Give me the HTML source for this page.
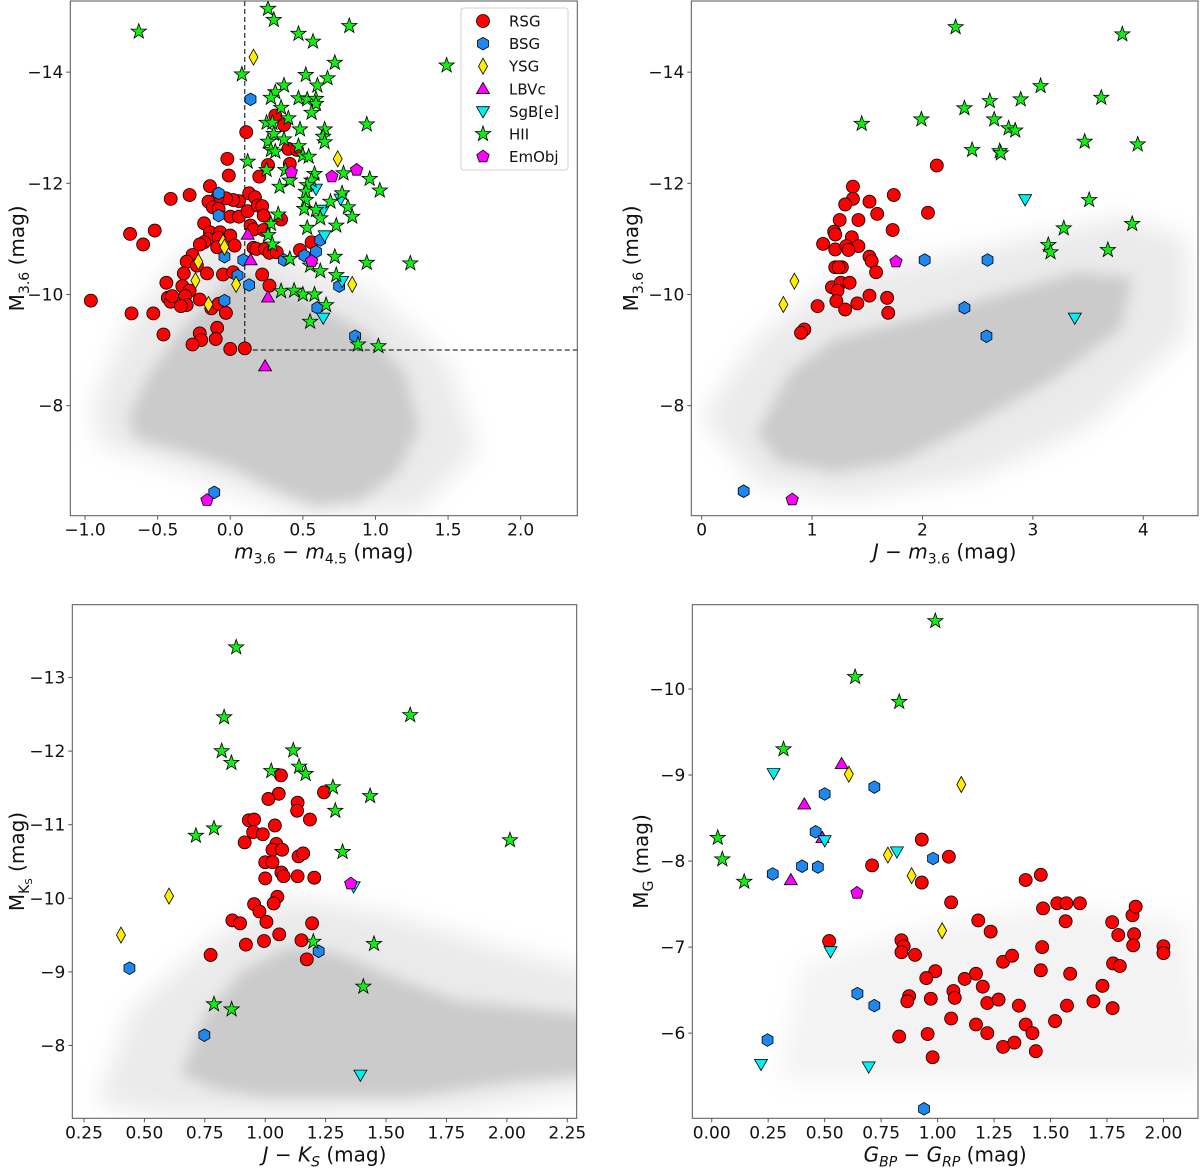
<!DOCTYPE html>
<html><head><meta charset="utf-8"><style>
html,body{margin:0;padding:0;background:#fff}
svg{display:block;font-family:"DejaVu Sans","Liberation Sans",sans-serif}
</style></head><body>
<svg id="fig" width="1200" height="1168" viewBox="0 0 1200 1168" xmlns="http://www.w3.org/2000/svg">
<defs>
<filter id="blur1" x="-20%" y="-20%" width="140%" height="140%"><feGaussianBlur stdDeviation="7"/></filter>
<filter id="blur2" x="-20%" y="-20%" width="140%" height="140%"><feGaussianBlur stdDeviation="12"/></filter>
</defs>
</svg>
<script>
// ---------- data (panel 1: m3.6-m4.5 vs M3.6) ----------
const p1_rsg=[[-0.96,-9.89],[-0.69,-11.09],[-0.60,-10.90],[-0.52,-11.15],[-0.68,-9.66],[-0.53,-9.66],[-0.46,-9.28],[-0.44,-10.21],[-0.41,-11.72],[-0.28,-11.79],[-0.14,-11.95],[-0.02,-12.44],[-0.01,-12.14],[0.11,-12.92],[0.31,-13.22],[0.37,-13.05],[0.40,-12.62],[0.46,-12.60],[0.41,-12.35],[0.26,-12.33],[0.20,-12.12],[0.35,-11.35],[0.13,-11.82],[0.17,-11.75],[0.06,-11.68],[0.02,-11.70],[-0.03,-11.73],[-0.09,-11.74],[-0.15,-11.67],[-0.12,-11.57],[-0.08,-11.54],[0.00,-11.40],[0.06,-11.40],[0.12,-11.50],[0.19,-11.60],[0.22,-11.59],[0.23,-11.42],[-0.18,-11.28],[0.14,-11.24],[0.16,-11.17],[0.23,-11.16],[-0.14,-11.12],[-0.07,-11.12],[0.00,-11.06],[-0.15,-11.00],[-0.08,-11.02],[-0.18,-10.94],[-0.21,-10.90],[-0.09,-10.85],[0.03,-10.88],[0.16,-10.84],[0.18,-10.82],[0.24,-10.82],[0.27,-10.75],[0.32,-10.76],[0.48,-10.80],[0.56,-10.94],[-0.26,-10.71],[-0.30,-10.59],[-0.23,-10.52],[-0.32,-10.38],[-0.16,-10.38],[-0.05,-10.36],[0.02,-10.40],[0.22,-10.36],[0.27,-10.16],[-0.33,-10.15],[-0.28,-10.07],[-0.31,-9.97],[-0.43,-9.94],[-0.41,-9.87],[-0.40,-9.97],[-0.30,-9.81],[-0.34,-9.79],[-0.21,-9.91],[-0.13,-9.75],[-0.08,-9.83],[-0.03,-9.67],[-0.09,-9.40],[-0.10,-9.20],[-0.21,-9.30],[-0.20,-9.18],[-0.26,-9.10],[0.00,-9.02],[0.10,-9.03]];
const p1_bsg=[[0.14,-13.51],[-0.08,-11.82],[-0.08,-11.42],[-0.04,-10.68],[0.09,-10.62],[0.37,-10.62],[0.05,-10.34],[0.13,-10.17],[-0.04,-9.89],[0.51,-10.70],[0.59,-10.77],[0.62,-10.98],[0.75,-10.15],[0.60,-9.76],[0.86,-9.25],[-0.11,-6.44]];
const p1_ysg=[[0.16,-14.27],[0.74,-12.44],[-0.05,-10.94],[-0.04,-10.85],[-0.22,-10.59],[-0.24,-10.25],[0.04,-10.18],[-0.15,-9.82],[0.84,-10.18]];
const p1_lbv=[[0.12,-11.08],[0.14,-10.62],[0.26,-9.95],[0.24,-8.71]];
const p1_sgb=[[0.59,-11.90],[0.76,-11.72],[0.64,-11.52],[0.65,-11.06],[0.77,-10.24],[0.64,-9.58]];
const p1_hii=[[-0.63,-14.73],[0.26,-15.14],[0.30,-14.94],[0.47,-14.69],[0.57,-14.55],[0.82,-14.83],[1.49,-14.12],[0.08,-13.96],[0.52,-13.95],[0.37,-13.76],[0.72,-14.17],[0.60,-13.76],[0.67,-13.89],[0.31,-13.64],[0.28,-13.54],[0.47,-13.53],[0.53,-13.51],[0.59,-13.52],[0.59,-13.43],[0.56,-13.27],[0.35,-13.36],[0.40,-13.17],[0.25,-13.09],[0.29,-13.09],[0.94,-13.06],[0.48,-12.97],[0.30,-12.89],[0.65,-12.97],[0.64,-12.84],[0.37,-12.79],[0.26,-12.75],[0.65,-12.74],[0.28,-12.60],[0.31,-12.57],[0.47,-12.67],[0.50,-12.50],[0.54,-12.48],[0.12,-12.39],[0.25,-12.24],[0.38,-12.24],[0.41,-12.05],[0.34,-11.94],[0.58,-12.17],[0.56,-12.05],[0.78,-12.18],[0.96,-12.08],[1.03,-11.87],[0.53,-11.97],[0.52,-11.85],[0.52,-11.70],[0.51,-11.54],[0.59,-11.52],[0.62,-11.37],[0.69,-11.67],[0.77,-11.82],[0.81,-11.57],[0.84,-11.40],[0.73,-11.24],[0.53,-11.20],[0.33,-11.44],[0.28,-11.27],[0.26,-11.07],[0.29,-10.90],[0.72,-10.68],[0.94,-10.57],[1.24,-10.56],[0.55,-10.52],[0.62,-10.42],[0.73,-10.35],[0.35,-10.06],[0.44,-10.07],[0.50,-10.00],[0.58,-10.00],[0.66,-9.81],[0.55,-9.51],[0.88,-9.10],[1.02,-9.07],[0.41,-10.64]];
const p1_emo=[[0.42,-12.20],[0.70,-12.12],[0.87,-12.24],[0.56,-10.60],[-0.16,-6.30]];
const p1_cut=[0.1,-9.0];
const p1_fieldCore=[[-0.7,-7.8],[-0.55,-8.6],[-0.35,-9.3],[-0.15,-9.9],[0.05,-10.4],[0.3,-10.2],[0.6,-9.8],[0.95,-9.3],[1.2,-8.6],[1.3,-7.6],[1.15,-6.8],[0.9,-6.3],[0.6,-6.2],[0.3,-6.5],[0.0,-6.9],[-0.35,-7.2],[-0.65,-7.4]];
const p1_fieldHalo=[[-0.95,-8],[-0.7,-9.5],[-0.3,-10.8],[0.1,-11.2],[0.5,-10.6],[1.0,-10.0],[1.5,-8.8],[1.7,-7.2],[1.3,-6.1],[0.5,-6.0],[-0.3,-6.8],[-0.9,-7.3]];
const p1_xticks=[-1.0,-0.5,0.0,0.5,1.0,1.5,2.0];
const p1_yticks=[-14,-12,-10,-8];

// ---------- panel 2: J-m3.6 vs M3.6 ----------
const p2_rsg=[[2.13,-12.32],[1.37,-11.94],[1.37,-11.72],[1.30,-11.62],[1.52,-11.67],[1.74,-11.79],[1.59,-11.45],[2.05,-11.47],[1.25,-11.34],[1.42,-11.34],[1.73,-11.16],[1.20,-11.13],[1.21,-11.08],[1.10,-10.91],[1.36,-11.03],[1.42,-10.87],[1.21,-10.81],[1.31,-10.87],[1.33,-10.80],[1.52,-10.68],[1.54,-10.60],[1.58,-10.40],[1.21,-10.49],[1.27,-10.49],[1.24,-10.49],[1.18,-10.13],[1.26,-10.21],[1.34,-10.21],[1.23,-10.07],[1.22,-9.88],[1.30,-9.73],[1.41,-9.84],[1.52,-9.98],[1.68,-9.94],[1.69,-9.67],[1.05,-9.79],[0.93,-9.37],[0.90,-9.31]];
const p2_bsg=[[2.02,-10.62],[2.59,-10.62],[2.38,-9.76],[2.58,-9.25],[0.38,-6.46]];
const p2_ysg=[[0.84,-10.24],[0.74,-9.82]];
const p2_lbv=[];
const p2_sgb=[[2.93,-11.71],[3.38,-9.58]];
const p2_hii=[[2.30,-14.81],[3.81,-14.68],[3.07,-13.75],[3.62,-13.54],[2.89,-13.51],[2.61,-13.48],[2.38,-13.35],[2.65,-13.15],[1.99,-13.15],[1.45,-13.07],[2.78,-12.99],[2.84,-12.95],[3.47,-12.75],[3.95,-12.70],[2.45,-12.60],[2.70,-12.58],[2.71,-12.54],[3.51,-11.70],[3.90,-11.27],[3.28,-11.19],[3.14,-10.89],[3.16,-10.76],[3.68,-10.80]];
const p2_emo=[[1.76,-10.59],[0.82,-6.31]];
const p2_fieldCore=[[0.5,-7.5],[0.8,-8.6],[1.2,-9.2],[2.0,-9.6],[2.7,-10.0],[3.4,-10.4],[3.9,-10.3],[3.8,-9.4],[3.2,-8.5],[2.4,-7.6],[1.8,-7.0],[1.2,-6.8],[0.7,-7.0]];
const p2_fieldHalo=[[0.0,-7.8],[0.5,-9.2],[1.2,-10.3],[2.5,-10.8],[3.8,-11.4],[4.4,-11],[4.4,-9.3],[3.5,-7.6],[2.5,-6.7],[1.3,-6.3],[0.5,-6.6]];
const p2_xticks=[0,1,2,3,4];
const p2_yticks=[-14,-12,-10,-8];

// ---------- panel 3: J-Ks vs MKs ----------
const p3_rsg=[[1.065,-11.67],[1.056,-11.42],[1.013,-11.35],[1.134,-11.30],[1.132,-11.19],[1.243,-11.44],[1.185,-11.07],[0.932,-11.06],[0.954,-11.07],[1.04,-10.99],[0.95,-10.90],[0.99,-10.87],[0.915,-10.76],[1.046,-10.74],[1.03,-10.66],[1.07,-10.66],[1.138,-10.57],[1.157,-10.61],[1.00,-10.49],[1.03,-10.49],[1.067,-10.35],[1.076,-10.30],[1.134,-10.30],[1.203,-10.28],[1.0,-10.27],[1.05,-10.02],[1.035,-9.93],[0.954,-9.92],[0.976,-9.82],[0.864,-9.70],[0.896,-9.66],[1.005,-9.68],[1.194,-9.66],[1.058,-9.51],[0.92,-9.37],[0.995,-9.42],[1.15,-9.43],[1.172,-9.17],[0.774,-9.23]];
const p3_bsg=[[0.438,-9.05],[0.748,-8.14],[1.221,-9.28]];
const p3_ysg=[[0.602,-10.03],[0.403,-9.50]];
const p3_lbv=[];
const p3_sgb=[[1.366,-10.16],[1.394,-7.60]];
const p3_hii=[[0.88,-13.41],[0.83,-12.46],[1.60,-12.49],[0.82,-12.00],[1.116,-12.01],[0.86,-11.84],[1.025,-11.73],[1.14,-11.79],[1.167,-11.69],[1.28,-11.51],[1.434,-11.39],[1.29,-11.19],[0.788,-10.95],[0.713,-10.85],[1.32,-10.63],[2.013,-10.79],[1.199,-9.41],[1.45,-9.38],[1.406,-8.80],[0.788,-8.56],[0.861,-8.49]];
const p3_emo=[[1.354,-10.20]];
const p3_fieldCore=[[0.65,-7.6],[0.75,-8.4],[0.9,-9.0],[1.1,-9.35],[1.3,-9.25],[1.55,-8.9],[1.8,-8.6],[2.1,-8.5],[2.35,-8.4],[2.35,-7.6],[2.0,-7.5],[1.6,-7.3],[1.3,-7.3],[1.0,-7.3],[0.8,-7.4]];
const p3_fieldHalo=[[0.3,-7.2],[0.45,-8.5],[0.8,-9.5],[1.1,-10],[1.5,-9.8],[2.0,-9.3],[2.35,-9],[2.35,-7.4],[1.8,-7.1],[1.2,-7.05],[0.6,-7.05]];
const p3_xticks=[0.25,0.50,0.75,1.00,1.25,1.50,1.75,2.00,2.25];
const p3_yticks=[-13,-12,-11,-10,-9,-8];

// ---------- panel 4: GBP-GRP vs MG ----------
const p4_rsg=[[0.93,-8.25],[0.71,-7.95],[0.93,-7.75],[1.05,-8.05],[1.06,-7.52],[0.52,-7.07],[0.84,-7.08],[0.85,-7.01],[0.84,-6.94],[0.90,-6.91],[0.99,-6.72],[0.95,-6.64],[0.874,-6.43],[0.866,-6.37],[0.97,-6.40],[1.07,-6.49],[1.076,-6.41],[1.18,-7.31],[1.235,-7.18],[1.17,-6.69],[1.12,-6.63],[1.20,-6.54],[1.22,-6.35],[1.27,-6.39],[1.29,-6.83],[1.33,-6.90],[1.36,-6.32],[1.06,-6.17],[1.17,-6.10],[1.22,-6.00],[0.83,-5.96],[0.956,-5.99],[0.978,-5.72],[1.29,-5.84],[1.34,-5.89],[1.39,-6.10],[1.42,-6.00],[1.435,-5.79],[1.39,-7.78],[1.457,-7.84],[1.467,-7.45],[1.463,-7.00],[1.457,-6.73],[1.53,-7.51],[1.57,-7.51],[1.63,-7.51],[1.567,-7.30],[1.587,-6.69],[1.573,-6.32],[1.52,-6.14],[1.73,-6.55],[1.69,-6.37],[1.773,-7.29],[1.80,-7.14],[1.777,-6.81],[1.807,-6.78],[1.775,-6.29],[1.863,-7.37],[1.877,-7.47],[1.87,-7.15],[1.866,-7.02],[2.0,-7.01],[2.0,-6.93]];
const p4_bsg=[[0.50,-8.78],[0.72,-8.86],[0.46,-8.34],[0.40,-7.94],[0.47,-7.93],[0.27,-7.85],[0.98,-8.03],[0.645,-6.46],[0.72,-6.32],[0.247,-5.92],[0.94,-5.12]];
const p4_ysg=[[0.607,-9.01],[1.105,-8.89],[0.78,-8.07],[0.885,-7.83],[1.02,-7.19]];
const p4_lbv=[[0.575,-9.13],[0.41,-8.66],[0.35,-7.78],[0.49,-8.27]];
const p4_sgb=[[0.274,-9.02],[0.50,-8.24],[0.82,-8.11],[0.526,-6.95],[0.218,-5.64],[0.695,-5.61]];
const p4_hii=[[0.99,-10.79],[0.635,-10.14],[0.83,-9.85],[0.318,-9.30],[0.027,-8.27],[0.047,-8.02],[0.144,-7.76]];
const p4_emo=[[0.643,-7.63]];
const p4_fieldCore=[];
const p4_fieldHalo=[[0.3,-5.45],[0.4,-6.8],[0.9,-7.2],[1.5,-7.5],[2.1,-7.3],[2.2,-5.45]];
const p4_xticks=[0.00,0.25,0.50,0.75,1.00,1.25,1.50,1.75,2.00];
const p4_yticks=[-10,-9,-8,-7,-6];

// ---------- rendering ----------
const NS="http://www.w3.org/2000/svg";
const svg=document.getElementById('fig');
function el(tag,attrs,parent){const e=document.createElementNS(NS,tag);for(const k in attrs)e.setAttribute(k,attrs[k]);(parent||svg).appendChild(e);return e;}
function mk(x0,x1,xmin,xmax){return v=>x0+(v-xmin)/(xmax-xmin)*(x1-x0);}
function fmt(v,d){const s=Math.abs(v).toFixed(d);return (v<0?'\u2212':'')+s;}

const styles={
 rsg:{fill:'#ff0000',shape:'circle',name:'RSG'},
 bsg:{fill:'#1e88f0',shape:'hex',name:'BSG'},
 ysg:{fill:'#ffee00',shape:'diamond',name:'YSG'},
 lbv:{fill:'#ff00ff',shape:'tri',name:'LBVc'},
 sgb:{fill:'#00f0f0',shape:'trid',name:'SgB[e]'},
 hii:{fill:'#11ee11',shape:'star',name:'HII'},
 emo:{fill:'#ff00ff',shape:'pent',name:'EmObj'}
};
function poly(n,r,rot,cx,cy){let p=[];for(let i=0;i<n;i++){const a=rot+i*2*Math.PI/n;p.push((cx+r*Math.cos(a)).toFixed(1)+','+(cy+r*Math.sin(a)).toFixed(1));}return p.join(' ');}
function drawMarker(g,shape,fill,cx,cy){
 const st={fill:fill,stroke:'#000','stroke-width':0.8};
 let e;
 if(shape==='circle'){e=el('circle',Object.assign({cx:cx,cy:cy,r:6.5},st),g);}
 else if(shape==='hex'){e=el('polygon',Object.assign({points:poly(6,6.3,-Math.PI/2,cx,cy)},st),g);}
 else if(shape==='diamond'){e=el('polygon',Object.assign({points:`${cx},${cy-8} ${cx+4.5},${cy} ${cx},${cy+8} ${cx-4.5},${cy}`},st),g);}
 else if(shape==='tri'){e=el('polygon',Object.assign({points:poly(3,7.5,-Math.PI/2,cx,cy+1)},st),g);}
 else if(shape==='trid'){e=el('polygon',Object.assign({points:poly(3,7.5,Math.PI/2,cx,cy-1)},st),g);}
 else if(shape==='pent'){e=el('polygon',Object.assign({points:poly(5,6.5,-Math.PI/2,cx,cy)},st),g);}
 else {let p=[];for(let i=0;i<10;i++){const r=i%2?3.2:8;const a=-Math.PI/2+i*Math.PI/5;p.push((cx+r*Math.cos(a)).toFixed(1)+','+(cy+r*Math.sin(a)).toFixed(1));}
   e=el('polygon',Object.assign({points:p.join(' ')},st),g);}
 return e;
}

const panels=[
 {id:1,L:70.3,R:577.3,T:1,B:515.7,xmin:-1.1016,xmax:2.39,ytop:-15.28,ybot:-6.02,xt:p1_xticks,yt:p1_yticks,xd:1,yd:0,
  data:{rsg:p1_rsg,bsg:p1_bsg,ysg:p1_ysg,lbv:p1_lbv,sgb:p1_sgb,hii:p1_hii,emo:p1_emo},core:p1_fieldCore,halo:p1_fieldHalo,
  ylab:['M','3.6',' (mag)'],ylx:24},
 {id:2,L:691.3,R:1198,T:1,B:515.7,xmin:-0.094,xmax:4.496,ytop:-15.28,ybot:-6.02,xt:p2_xticks,yt:p2_yticks,xd:0,yd:0,
  data:{rsg:p2_rsg,bsg:p2_bsg,ysg:p2_ysg,lbv:p2_lbv,sgb:p2_sgb,hii:p2_hii,emo:p2_emo},core:p2_fieldCore,halo:p2_fieldHalo,
  ylab:['M','3.6',' (mag)'],ylx:638},
 {id:3,L:72.3,R:576.7,T:604.7,B:1118.3,xmin:0.2016,xmax:2.289,ytop:-13.99,ybot:-7.01,xt:p3_xticks,yt:p3_yticks,xd:2,yd:0,
  data:{rsg:p3_rsg,bsg:p3_bsg,ysg:p3_ysg,lbv:p3_lbv,sgb:p3_sgb,hii:p3_hii,emo:p3_emo},core:p3_fieldCore,halo:p3_fieldHalo,
  ylab:['M','KS',' (mag)'],ylx:24},
 {id:4,L:692.3,R:1198,T:604.7,B:1118.3,xmin:-0.086,xmax:2.153,ytop:-10.98,ybot:-5.01,xt:p4_xticks,yt:p4_yticks,xd:2,yd:0,
  data:{rsg:p4_rsg,bsg:p4_bsg,ysg:p4_ysg,lbv:p4_lbv,sgb:p4_sgb,hii:p4_hii,emo:p4_emo},core:p4_fieldCore,halo:p4_fieldHalo,
  ylab:['M','G',' (mag)'],ylx:648}
];

const defs=svg.querySelector('defs');
panels.forEach(P=>{
 const sx=mk(P.L,P.R,P.xmin,P.xmax), sy=mk(P.T,P.B,P.ytop,P.ybot);
 const cp=el('clipPath',{id:'clip'+P.id},defs);
 el('rect',{x:P.L,y:P.T,width:P.R-P.L,height:P.B-P.T},cp);
 const g=el('g',{'clip-path':`url(#clip${P.id})`});
 
 
 const toPts=a=>a.map(p=>sx(p[0]).toFixed(1)+','+sy(p[1]).toFixed(1)).join(' ');
 if(P.halo.length){const h=el('polygon',{points:toPts(P.halo),fill:'#d2d2d2',opacity:P.id===4?0.25:0.45,filter:'url(#blur2)'},g);
   
   }
 if(P.core.length){const c=el('polygon',{points:toPts(P.core),fill:'#cbcbcb',filter:'url(#blur1)'},g);
   
   }
 if(P.id===1){
  const x0=sx(p1_cut[0]), y0=sy(p1_cut[1]);
  const v=el('line',{x1:x0,y1:P.T,x2:x0,y2:y0,stroke:'#000','stroke-width':1,'stroke-dasharray':'5,3'},g);
  
  
  const hl=el('line',{x1:x0,y1:y0,x2:P.R,y2:y0,stroke:'#000','stroke-width':1,'stroke-dasharray':'5,3'},g);
  
  
 }
 ['rsg','bsg','ysg','lbv','sgb','hii','emo'].forEach(k=>{
  const sg=el('g',{},g);
  
  
  P.data[k].forEach(pt=>{
   const m=drawMarker(sg,styles[k].shape,styles[k].fill,sx(pt[0]),sy(pt[1]));
   
   
  });
 });
 const fr=el('rect',{x:P.L,y:P.T,width:P.R-P.L,height:P.B-P.T,fill:'none',stroke:'#555','stroke-width':1});
 
 
 P.xt.forEach(t=>{const x=sx(t);
  el('line',{x1:x,y1:P.B,x2:x,y2:P.B+4,stroke:'#555','stroke-width':1});
  const tx=el('text',{x:x,y:P.B+20,'text-anchor':'middle','font-size':17,fill:'#111'});
  tx.textContent=fmt(t,P.xd);
  
  });
 P.yt.forEach(t=>{const y=sy(t);
  el('line',{x1:P.L-4,y1:y,x2:P.L,y2:y,stroke:'#555','stroke-width':1});
  const tx=el('text',{x:P.L-7,y:y+6,'text-anchor':'end','font-size':17,fill:'#111'});
  tx.textContent=fmt(t,P.yd);
  
  });
 const yc=(P.T+P.B)/2;
 const yl=el('text',{x:0,y:0,'text-anchor':'middle','font-size':20,fill:'#111',transform:`translate(${P.ylx},${yc}) rotate(-90)`});
 
 
 const a=el('tspan',{},yl);a.textContent=P.ylab[0];
 if(P.id===3){const b=el('tspan',{'font-size':14,dy:5},yl);b.textContent='K';const b2=el('tspan',{'font-size':10,dy:3},yl);b2.textContent='S';
   const c=el('tspan',{dy:-8},yl);c.textContent=P.ylab[2];}
 else {const b=el('tspan',{'font-size':14,dy:5},yl);b.textContent=P.ylab[1];const c=el('tspan',{dy:-5},yl);c.textContent=P.ylab[2];}
 const xc=(P.L+P.R)/2;
 const xl=el('text',{x:xc,y:P.B+43,'text-anchor':'middle','font-size':20,fill:'#111'});
 
 
 function ts(txt,attrs){const t=el('tspan',attrs||{},xl);t.textContent=txt;return t;}
 if(P.id===1){ts('m',{'font-style':'italic'});ts('3.6',{'font-size':14,dy:5});ts(' \u2212 ',{dy:-5});ts('m',{'font-style':'italic'});ts('4.5',{'font-size':14,dy:5});ts(' (mag)',{dy:-5});}
 else if(P.id===2){ts('J',{'font-style':'italic'});ts(' \u2212 ');ts('m',{'font-style':'italic'});ts('3.6',{'font-size':14,dy:5});ts(' (mag)',{dy:-5});}
 else if(P.id===3){ts('J',{'font-style':'italic'});ts(' \u2212 ');ts('K',{'font-style':'italic'});ts('S',{'font-size':14,dy:5,'font-style':'italic'});ts(' (mag)',{dy:-5});}
 else {ts('G',{'font-style':'italic'});ts('BP',{'font-size':14,dy:5,'font-style':'italic'});ts(' \u2212 ',{dy:-5});ts('G',{'font-style':'italic'});ts('RP',{'font-size':14,dy:5,'font-style':'italic'});ts(' (mag)',{dy:-5});}
});

const lg=el('g',{});


el('rect',{x:461,y:8,width:107,height:162,rx:3,fill:'#fff',stroke:'#d0d0d0','stroke-width':1,opacity:0.95},lg);
['rsg','bsg','ysg','lbv','sgb','hii','emo'].forEach((k,i)=>{
 const y=21+i*22.6;
 const eg=el('g',{},lg);
 
 
 drawMarker(eg,styles[k].shape,styles[k].fill,483,y);
 const t=el('text',{x:509,y:y+5.5,'font-size':15,fill:'#111'},eg);
 t.textContent=styles[k].name;
});
</script>
</body></html>
